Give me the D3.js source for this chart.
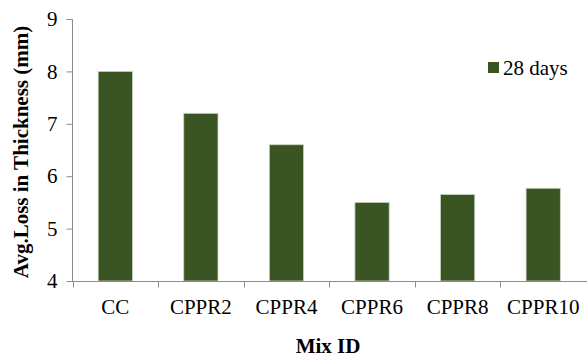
<!DOCTYPE html>
<html><head><meta charset="utf-8">
<script src="https://cdn.jsdelivr.net/npm/d3@7"></script>
<style>body{margin:0;background:#fff}svg{display:block}</style>
</head><body>
<svg id="c" width="587" height="360"></svg>
<script>
const categories = ["CC","CPPR2","CPPR4","CPPR6","CPPR8","CPPR10"];
const values28 = [8.0, 7.2, 6.6, 5.5, 5.65, 5.77];
const yTicks = [4,5,6,7,8,9];
const seriesName = "28 days";

const svg = d3.select("#c");
const font = "'Liberation Serif','Times New Roman',serif";
const m = {l:72, r:586, t:19, b:281};
const xb = d3.scaleBand().domain(categories).range([m.l+0.5, m.r]);
const y = d3.scaleLinear().domain([4,9]).range([m.b, m.t]);
const axisColor = "#8c8c8c";

// bars
svg.append("g").selectAll("rect").data(values28).join("rect")
  .attr("x",(d,i)=>xb(categories[i]) + xb.bandwidth()*0.3)
  .attr("width", xb.bandwidth()*0.4)
  .attr("y", d=>y(d))
  .attr("height", d=>y(4)-y(d))
  .attr("fill","#3a5424")
  .attr("stroke","#c9d3bf").attr("stroke-width",0.8);

// y axis
const ya = svg.append("g").attr("transform",`translate(${m.l+0.5},0)`)
  .call(d3.axisLeft(y).tickValues(yTicks).tickSize(6).tickPadding(9).tickFormat(d3.format("d")));
ya.select(".domain").attr("stroke",axisColor).attr("d",`M-6,${y(9)+0.5}H0V${y(4)+0.5}`);
ya.selectAll(".tick line").attr("stroke",axisColor);
ya.selectAll("text").attr("font-family",font).attr("font-size",21).attr("fill","#000");

// x axis
const xa = svg.append("g").attr("transform",`translate(0,${m.b+0.5})`);
xa.append("line").attr("x1",m.l).attr("x2",m.r+1).attr("stroke",axisColor);
xa.selectAll(".t").data(categories).join("line")
  .attr("x1",d=>Math.round(xb(d))+0.5).attr("x2",d=>Math.round(xb(d))+0.5)
  .attr("y1",0).attr("y2",6).attr("stroke",axisColor);
xa.selectAll("text").data(categories).join("text")
  .attr("x",d=>xb(d)+xb.bandwidth()/2).attr("y",32)
  .attr("text-anchor","middle").attr("font-family",font).attr("font-size",21).text(d=>d);

// titles
svg.append("text").attr("x",328).attr("y",353).attr("text-anchor","middle")
  .attr("font-family",font).attr("font-size",21).attr("font-weight","bold").text("Mix ID");
svg.append("text").attr("transform","translate(28,152) rotate(-90)").attr("text-anchor","middle")
  .attr("font-family",font).attr("font-size",21).attr("font-weight","bold").text("Avg.Loss in Thickness (mm)");

// legend
svg.append("rect").attr("x",488).attr("y",62).attr("width",11).attr("height",11).attr("fill","#3a5424");
svg.append("text").attr("x",503).attr("y",75).attr("font-family",font).attr("font-size",21).text(seriesName);
</script>
</body></html>
